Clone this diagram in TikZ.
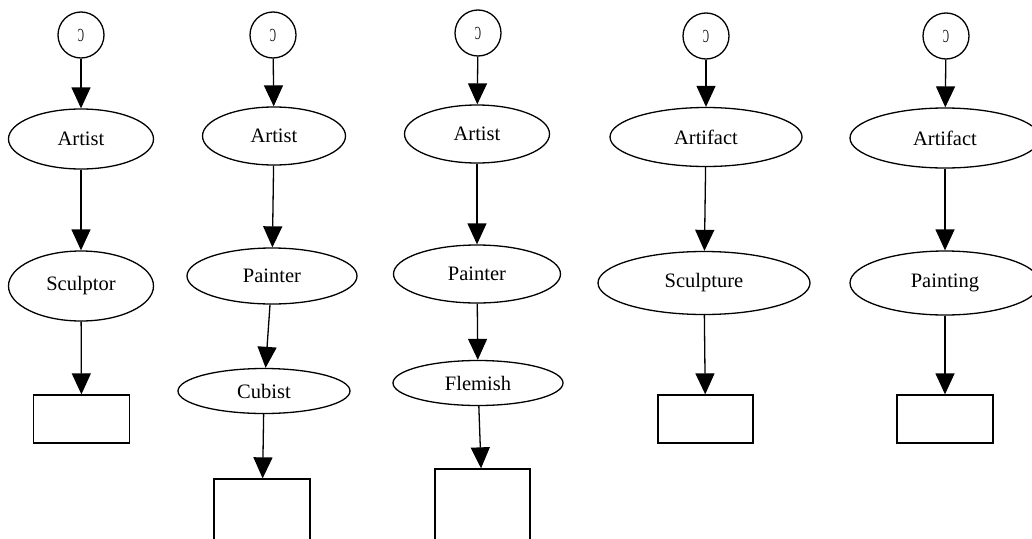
\documentclass[tikz,border=0pt]{standalone}
\usepackage{fontspec}
\setmainfont{Liberation Serif}
\usetikzlibrary{shapes.geometric,arrows.meta}

\tikzset{
  every node/.style={font=\fontsize{20.5}{24}\selectfont, inner sep=0pt, line width=1.3pt},
  root/.style={draw, circle, minimum size=46pt},
  concept/.style={draw, ellipse},
  slot/.style={draw, rectangle},
  link/.style={line width=1.3pt, -{Triangle[length=21pt,width=19pt]}}
}
\newcommand{\rootmark}{\scalebox{0.45}[0.9]{Ɔ}}

\begin{document}
\begin{tikzpicture}[x=1pt,y=-1pt]
  \clip (0,0) rectangle (1032,538);
  \fill[white] (0,0) rectangle (1032,538);

  % Artist -> Sculptor
  \node[root] (c1) at (81,35) {\rootmark};
  \node[concept, minimum width=145pt, minimum height=60pt] (a1) at (81,139) {Artist};
  \node[concept, minimum width=145pt, minimum height=70pt] (s1) at (81,286) {Sculptor};
  \node[slot, minimum width=96pt, minimum height=48pt] (b1) at (81.5,419) {};
  \draw[link] (c1) -- (a1);
  \draw[link] (a1) -- (s1);
  \draw[link] (s1) -- (b1);

  % Artist -> Painter -> Cubist
  \node[root] (c2) at (273,35) {\rootmark};
  \node[concept, minimum width=143pt, minimum height=58pt] (a2) at (274,136) {Artist};
  \node[concept, minimum width=170pt, minimum height=56pt] (p2) at (272,276) {Painter};
  \node[concept, minimum width=172pt, minimum height=45pt] (cu2) at (264,391) {Cubist};
  \node[slot, minimum width=96pt, minimum height=80pt] (b2) at (262,519) {};
  \draw[link] (c2) -- (a2);
  \draw[link] (a2) -- (p2);
  \draw[link] (p2) -- (cu2);
  \draw[link] (cu2) -- (b2);

  % Artist -> Painter -> Flemish
  \node[root] (c3) at (478,33) {\rootmark};
  \node[concept, minimum width=145pt, minimum height=58pt] (a3) at (477,134) {Artist};
  \node[concept, minimum width=167pt, minimum height=58pt] (p3) at (477,274) {Painter};
  \node[concept, minimum width=170pt, minimum height=45pt] (f3) at (478,383) {Flemish};
  \node[slot, minimum width=95pt, minimum height=80pt] (b3) at (482.5,509) {};
  \draw[link] (c3) -- (a3);
  \draw[link] (a3) -- (p3);
  \draw[link] (p3) -- (f3);
  \draw[link] (f3) -- (b3);

  % Artifact -> Sculpture
  \node[root] (c4) at (706,36) {\rootmark};
  \node[concept, minimum width=192pt, minimum height=59pt] (af4) at (706,137) {Artifact};
  \node[concept, minimum width=212pt, minimum height=63pt] (sc4) at (704,283) {Sculpture};
  \node[slot, minimum width=95pt, minimum height=48pt] (b4) at (705.5,419) {};
  \draw[link] (c4) -- (af4);
  \draw[link] (af4) -- (sc4);
  \draw[link] (sc4) -- (b4);

  % Artifact -> Painting
  \node[root] (c5) at (946,36) {\rootmark};
  \node[concept, minimum width=190pt, minimum height=60pt] (af5) at (945,138) {Artifact};
  \node[concept, minimum width=190pt, minimum height=64pt] (pa5) at (945,283) {Painting};
  \node[slot, minimum width=96pt, minimum height=48pt] (b5) at (945,419) {};
  \draw[link] (c5) -- (af5);
  \draw[link] (af5) -- (pa5);
  \draw[link] (pa5) -- (b5);
\end{tikzpicture}
\end{document}
